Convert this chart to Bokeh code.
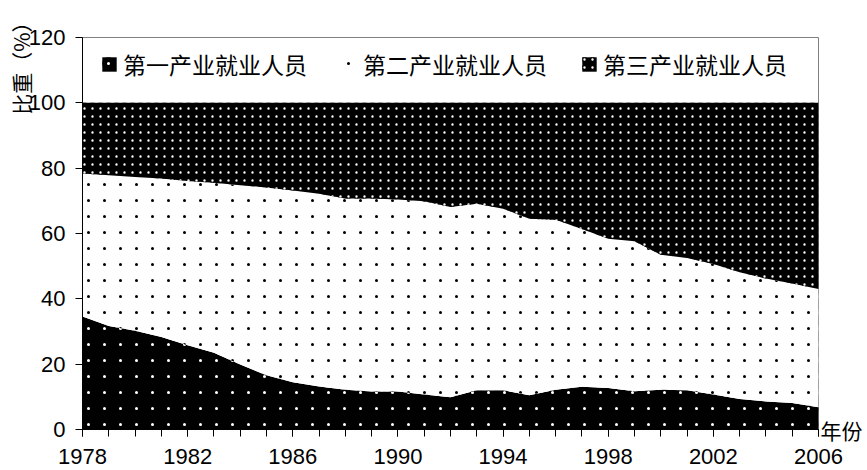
from bokeh.embed import file_html
from bokeh.models import (ColumnDataSource, CustomJSTickFormatter, FixedTicker,
                          Legend, LegendItem, LinearAxis, Range1d, Title)
from bokeh.plotting import figure
from bokeh.resources import INLINE
from bokeh.transform import stack

# Employment shares by sector (%), 1978-2006
years = list(range(1978, 2007))
primary = [34.6, 31.7, 30.2, 28.3, 25.8, 23.5, 19.9, 16.6, 14.5, 13.2,
           12.2, 11.6, 11.6, 10.7, 9.9, 12.0, 12.0, 10.5, 12.2, 13.1,
           12.7, 11.7, 12.2, 12.0, 10.7, 9.3, 8.6, 8.1, 6.8]
secondary = [43.8, 46.1, 47.1, 48.5, 50.3, 52.0, 54.9, 57.5, 58.7, 59.0,
             58.5, 59.1, 58.8, 59.2, 58.2, 57.1, 55.6, 54.0, 52.0, 48.3,
             45.7, 45.9, 41.3, 40.5, 40.0, 38.8, 37.6, 36.6, 36.2]
tertiary = [21.6, 22.2, 22.7, 23.2, 23.9, 24.5, 25.2, 25.9, 26.8, 27.8,
            29.3, 29.3, 29.6, 30.1, 31.9, 30.9, 32.4, 35.5, 35.8, 38.6,
            41.6, 42.4, 46.5, 47.5, 49.3, 51.9, 53.8, 55.3, 57.0]

series_names = ["第一产业就业人员", "第二产业就业人员", "第三产业就业人员"]
x_tick_years = [1978, 1982, 1986, 1990, 1994, 1998, 2002, 2006]
y_ticks = [0, 20, 40, 60, 80, 100, 120]
y_title = "比重（%）"
x_title = "年份"

source = ColumnDataSource(data=dict(year=years, primary=primary,
                                    secondary=secondary, tertiary=tertiary))

p = figure(width=867, height=470, output_backend="svg", toolbar_location=None,
           x_range=Range1d(1978, 2006), y_range=Range1d(0, 120),
           min_border_left=82, min_border_right=49,
           min_border_top=37, min_border_bottom=41)
p.grid.visible = False
p.outline_line_color = "#808080"
p.outline_line_width = 1

bands = [
    # (lower stack, upper stack, fill, dot colour, tile size, ring weight)
    ([], ["primary"], "black", "white", 16, 5),
    (["primary"], ["primary", "secondary"], "white", "black", 16, 5),
    (["primary", "secondary"], ["primary", "secondary", "tertiary"],
     "black", "white", 8, 1.6),
]

legend_items = []
for name, (lo, hi, fill, dot, tile, ring) in zip(series_names, bands):
    y1 = stack(*lo) if lo else 0
    # filled band with a round-dot hatch
    base = p.varea(x="year", y1=y1, y2=stack(*hi), source=source,
                   fill_color=fill, hatch_pattern="dot", hatch_color=dot,
                   hatch_scale=tile)
    # a ring of the fill colour over each dot trims it down to a small speck
    trim = p.varea(x="year", y1=y1, y2=stack(*hi), source=source,
                   fill_alpha=0, hatch_pattern="ring", hatch_color=fill,
                   hatch_scale=tile, hatch_weight=ring)
    legend_items.append(LegendItem(label=name, renderers=[base, trim]))

legend = Legend(items=legend_items, orientation="horizontal",
                location=(18, 348), glyph_width=18, glyph_height=18,
                label_standoff=5, spacing=33, padding=0, margin=0,
                border_line_color=None, background_fill_alpha=0,
                label_text_font="Noto Sans CJK SC",
                label_text_font_size="23px", label_text_color="black")
p.add_layout(legend)

tick_font = "Liberation Sans"
xa = p.xaxis[0]
xa.ticker = FixedTicker(ticks=x_tick_years, minor_ticks=years)
xa.major_tick_in = 0
xa.major_tick_out = 7
xa.minor_tick_in = 0
xa.minor_tick_out = 7
xa.major_label_standoff = 12
xa.major_label_text_font = tick_font
xa.major_label_text_font_size = "22px"
xa.major_label_text_color = "black"

ya = p.yaxis[0]
ya.ticker = FixedTicker(ticks=y_ticks)
ya.minor_tick_line_color = None
ya.major_tick_in = 0
ya.major_tick_out = 7
ya.major_label_standoff = 10
ya.major_label_text_font = tick_font
ya.major_label_text_font_size = "22px"
ya.major_label_text_color = "black"

# vertical y title, near the top of the axis
p.add_layout(Title(text=y_title, align="right", offset=-26, standoff=-20,
                   text_font="Noto Sans CJK SC", text_font_size="21px",
                   text_font_style="normal", text_color="black",
                   text_line_height=1.0), "left")

# x title to the right of the axis end
x_title_axis = LinearAxis(ticker=FixedTicker(ticks=[0]),
                          formatter=CustomJSTickFormatter(
                              code='return "%s";' % x_title),
                          axis_line_color=None, major_tick_line_color=None,
                          minor_tick_line_color=None,
                          major_tick_in=0, major_tick_out=0,
                          major_label_standoff=2,
                          major_label_text_font="Noto Sans CJK SC",
                          major_label_text_font_size="21px",
                          major_label_text_color="black")
p.add_layout(x_title_axis, "right")

open("out.html", "w").write(file_html(p, INLINE))
